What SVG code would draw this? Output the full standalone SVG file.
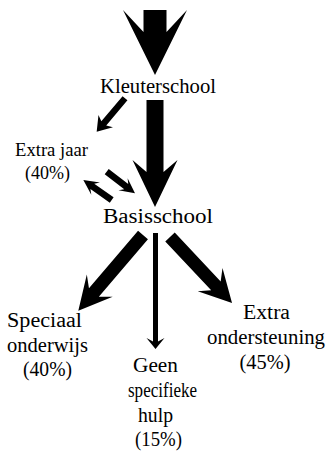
<svg xmlns="http://www.w3.org/2000/svg" width="328" height="452" viewBox="0 0 328 452">
<rect width="328" height="452" fill="#fff"/>
<g id="connectors" fill="#000">
<polygon id="arrow-in" points="143.5,10 166.5,10 166.5,32 187,10 155,75 123,10 143.5,32"/>
<polygon id="arrow-k-b" points="146.5,100 163.5,100 163.5,172 177.5,160 155,207 132.5,160 146.5,172"/>
<polygon id="arrow-k-e" transform="translate(125,98.3) rotate(130.3)" points="0,-3.2 32.8,-3.2 29.8,-9.5 43.8,0 29.8,9.5 32.8,3.2 0,3.2"/>
<polygon id="arrow-e-b" transform="translate(106.7,171.7) rotate(37.4)" points="0,-3.3 24.6,-3.3 20.6,-7.5 35.6,0 20.6,7.5 24.6,3.3 0,3.3"/>
<polygon id="arrow-b-e" transform="translate(111.7,200) rotate(-144.8)" points="0,-3.3 23.7,-3.3 19.7,-7.5 34.7,0 19.7,7.5 23.7,3.3 0,3.3"/>
<polygon id="arrow-b-s" transform="translate(143,235) rotate(130.5)" points="0,-6.5 75.6,-6.5 66.6,-17 99.6,0 66.6,17 75.6,6.5 0,6.5"/>
<polygon id="arrow-b-g" points="153,233 158,233 158,341.5 164.5,338 155.5,349 146.5,338 153,341.5"/>
<polygon id="arrow-b-x" transform="translate(170,237) rotate(46.8)" points="0,-6.5 67.1,-6.5 58.6,-17 90.6,0 58.6,17 67.1,6.5 0,6.5"/>
</g>
<g id="kleuterschool"><text x="100" y="93" font-size="20.5" font-family="Liberation Serif" textLength="116" lengthAdjust="spacingAndGlyphs">Kleuterschool</text></g>
<g id="extra-jaar"><text x="15" y="156" font-size="18.5" font-family="Liberation Serif" textLength="73" lengthAdjust="spacingAndGlyphs">Extra jaar</text><text x="25" y="178.5" font-size="18.5" font-family="Liberation Serif" textLength="45" lengthAdjust="spacingAndGlyphs">(40%)</text></g>
<g id="basisschool"><text x="103" y="223" font-size="20.5" font-family="Liberation Serif" textLength="110" lengthAdjust="spacingAndGlyphs">Basisschool</text></g>
<g id="speciaal-onderwijs"><text x="7" y="326.5" font-size="20.5" font-family="Liberation Serif" textLength="75" lengthAdjust="spacingAndGlyphs">Speciaal</text><text x="7" y="351.5" font-size="20.5" font-family="Liberation Serif" textLength="81" lengthAdjust="spacingAndGlyphs">onderwijs</text><text x="23" y="375.5" font-size="20.5" font-family="Liberation Serif" textLength="49" lengthAdjust="spacingAndGlyphs">(40%)</text></g>
<g id="geen-hulp"><text x="133" y="371.5" font-size="20.5" font-family="Liberation Serif" textLength="45" lengthAdjust="spacingAndGlyphs">Geen</text><text x="128" y="396.5" font-size="20.5" font-family="Liberation Serif" textLength="69" lengthAdjust="spacingAndGlyphs">specifieke</text><text x="138" y="421.5" font-size="20.5" font-family="Liberation Serif" textLength="35" lengthAdjust="spacingAndGlyphs">hulp</text><text x="135" y="445.5" font-size="20.5" font-family="Liberation Serif" textLength="47" lengthAdjust="spacingAndGlyphs">(15%)</text></g>
<g id="extra-ondersteuning"><text x="243" y="318.5" font-size="20.5" font-family="Liberation Serif" textLength="47" lengthAdjust="spacingAndGlyphs">Extra</text><text x="207" y="344" font-size="20.5" font-family="Liberation Serif" textLength="118" lengthAdjust="spacingAndGlyphs">ondersteuning</text><text x="239.5" y="368.5" font-size="20.5" font-family="Liberation Serif" textLength="51" lengthAdjust="spacingAndGlyphs">(45%)</text></g>
</svg>
